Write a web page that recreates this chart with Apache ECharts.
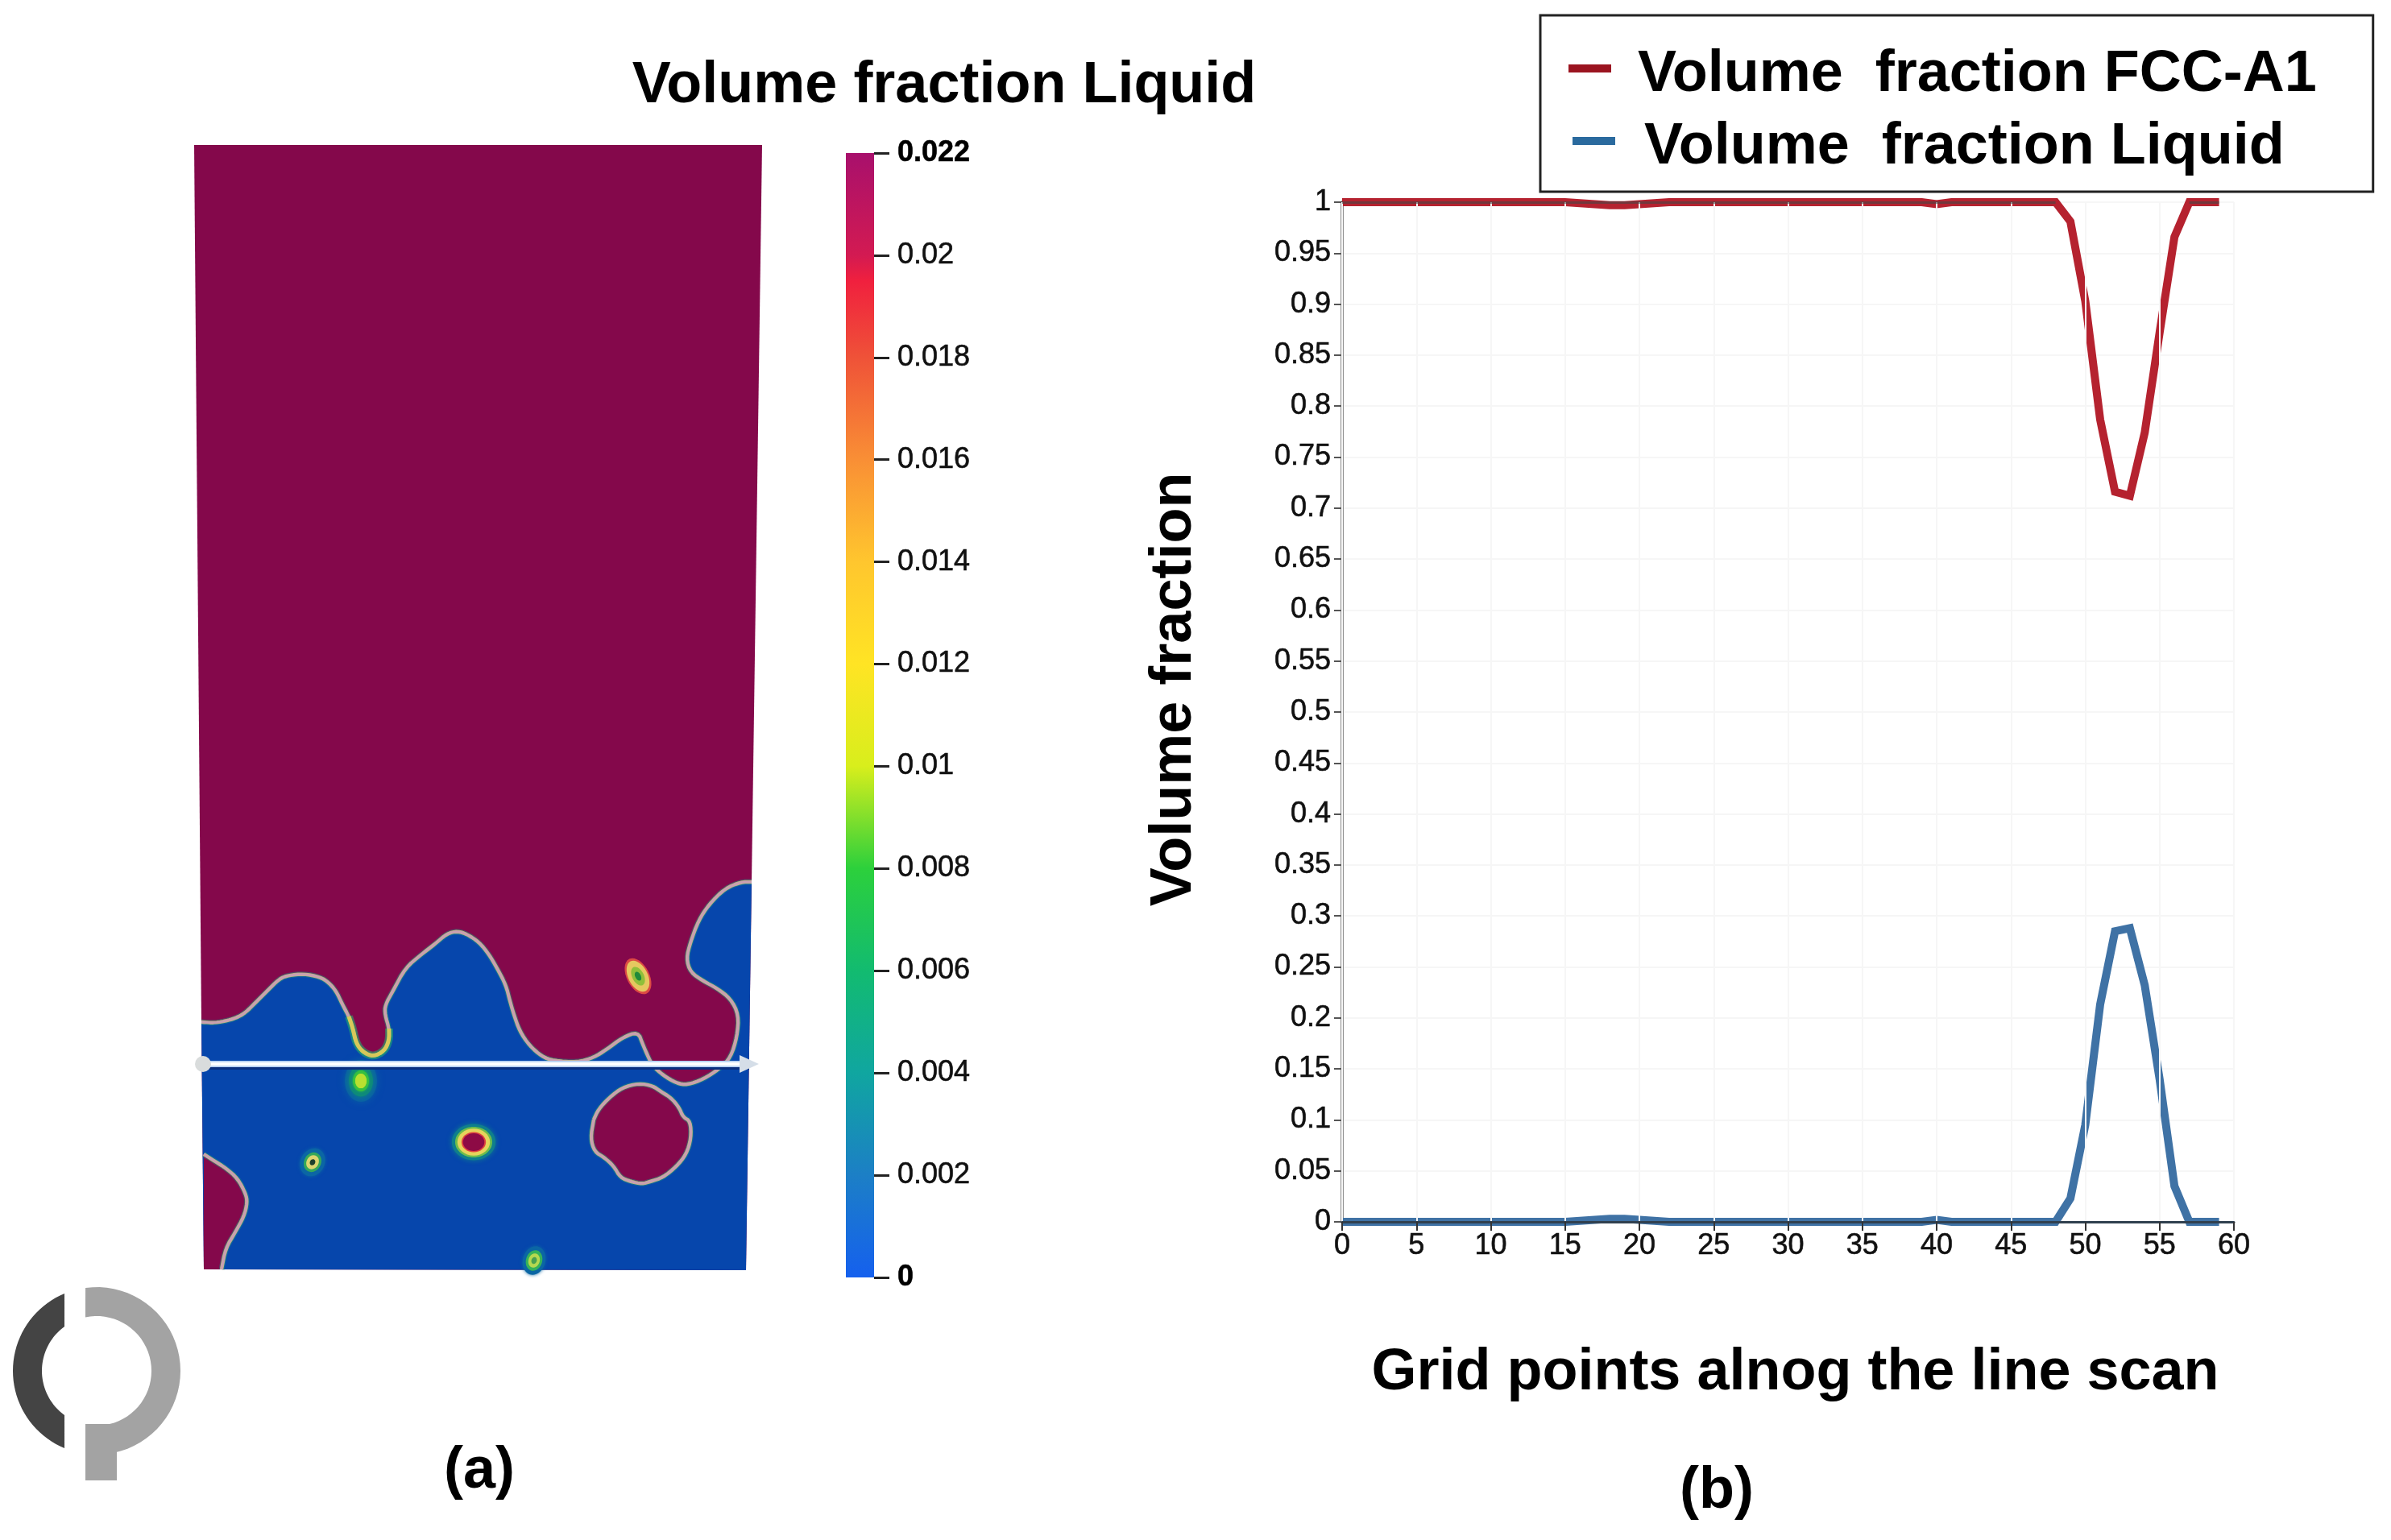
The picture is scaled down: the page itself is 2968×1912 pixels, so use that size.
<!DOCTYPE html>
<html>
	<head>
		<meta charset="utf-8">
		<title>Volume fraction line scan</title>
		<script src="https://cdn.jsdelivr.net/npm/echarts@6/dist/echarts.min.js"></script>
		<style>
			html, body { margin: 0; background: #fff; }
		</style>
	</head>
	<body>
		<div id="box" style="width: 2968px;height: 1912px;"></div>
		<script>
			// line scan values, one per grid point
			var gridPoints = [0,1,2,3,4,5,6,7,8,9,10,11,12,13,14,15,16,17,18,19,20,21,22,23,24,25,26,27,28,29,30,31,32,33,34,35,36,37,38,39,40,41,42,43,44,45,46,47,48,49,50,51,52,53,54,55,56,57,58,59]
			var fccValues = [1,1,1,1,1,1,1,1,1,1,1,1,1,1,1,1,0.999,0.998,0.997,0.997,0.998,0.999,1,1,1,1,1,1,1,1,1,1,1,1,1,1,1,1,1,1,0.998,1,1,1,1,1,1,1,1,0.981,0.903,0.787,0.716,0.712,0.774,0.872,0.966,1,1,1]
			var liquidValues = [0,0,0,0,0,0,0,0,0,0,0,0,0,0,0,0,0.001,0.002,0.003,0.003,0.002,0.001,0,0,0,0,0,0,0,0,0,0,0,0,0,0,0,0,0,0,0.002,0,0,0,0,0,0,0,0,0.023,0.095,0.213,0.285,0.288,0.232,0.14,0.035,0,0,0]

			// colour bar: value, colour
			var barStops = [[0,'#1560ee'],[0.002,'#1c7fc6'],[0.004,'#10a6a0'],[0.006,'#12bb70'],[0.008,'#2cd03c'],[0.01,'#d8ee1c'],[0.012,'#ffe424'],[0.014,'#ffc62e'],[0.016,'#f98f35'],[0.018,'#ef5238'],[0.0195,'#f0203e'],[0.02,'#d31a52'],[0.022,'#a8106c']]
			var barMax = 0.022

			// field outlines, in panel units (x across, y down)
			var panelEdge = [[1,0],[706,0],[693,915],[686,1397],[13,1396],[10,1089]]
			var mainFront = [[10,1089],[27,1090],[43,1087],[55,1083],[65,1077],[77,1065],[90,1052],[107,1035],[118,1031],[137,1029],[157,1033],[167,1039],[177,1050],[185,1067],[193,1082],[198,1097],[202,1115],[210,1126],[223,1132],[237,1125],[243,1112],[243,1097],[238,1080],[238,1068],[248,1050],[263,1022],[283,1005],[300,992],[315,979],[328,976],[340,980],[355,990],[367,1005],[377,1022],[388,1043],[393,1063],[398,1080],[405,1100],[417,1118],[433,1132],[447,1137],[477,1139],[497,1133],[513,1123],[533,1108],[552,1101],[558,1117],[565,1133],[570,1143],[583,1155],[600,1165],[613,1167],[633,1160],[653,1147],[667,1133],[675,1107],[677,1080],[667,1060],[650,1047],[633,1038],[617,1027],[612,1010],[617,990],[627,963],[640,943],[660,923],[680,915],[693,915]]
			var mainFrontTip = [[193,1082],[198,1097],[202,1115],[210,1126],[223,1132],[237,1125],[243,1112],[243,1097]]
			var bigDroplet = [[497,1210],[503,1197],[517,1182],[533,1170],[553,1165],[570,1168],[580,1175],[593,1183],[603,1195],[608,1207],[617,1212],[618,1233],[612,1253],[600,1268],[583,1282],[567,1287],[557,1290],[543,1287],[530,1282],[522,1268],[510,1257],[498,1250],[493,1233],[497,1210]]
			var cornerFront = [[13,1253],[27,1262],[40,1270],[55,1283],[65,1302],[67,1313],[63,1330],[52,1350],[40,1370],[35,1396]]
			var cornerClose = [[13,1396]]
			// small spots: x, y, rx, ry, rotation
			var ringSpot = [348,1238,23,19,0]
			var hazeSpot = [208,1162,20,26,0]
			var tinySpot = [148,1263,15,18,-0.5]
			var lowSpot = [423,1385,14,18,-0.3]
			var leafSpot = [552,1032,14,24,0.47]
			var scanLine = [[12,1141],[690,1141]]

			function smooth(pts) {
				var out = pts
				for (var k = 0; k < 2; k++) {
					var next = [out[0]]
					for (var i = 0; i < out.length - 1; i++) {
						var a = out[i], b = out[i + 1]
						next.push([a[0] * 0.75 + b[0] * 0.25, a[1] * 0.75 + b[1] * 0.25])
						next.push([a[0] * 0.25 + b[0] * 0.75, a[1] * 0.25 + b[1] * 0.75])
					}
					next.push(out[out.length - 1])
					out = next
				}
				return out
			}

			function renderField(params, api) {
				var toPx = function(pts) { return pts.map(function(p) { return api.coord(p) }) }
				var kids = []
				var fill = function(pts, color) {
					kids.push({ type: 'polygon', shape: { points: toPx(pts) }, style: { fill: color } })
				}
				var stroke = function(pts, color, width, opacity) {
					kids.push({ type: 'polyline', shape: { points: toPx(pts) }, style: { fill: null, stroke: color, lineWidth: width, opacity: opacity || 1, lineJoin: 'round' } })
				}
				var rim = function(pts) {
					stroke(pts, '#1d8f84', 7, 0.45)
					stroke(pts, '#b9b483', 4.5)
					stroke(pts, '#c99fb2', 3)
				}
				var spot = function(s, layers) {
					var c = api.coord([s[0], s[1]])
					layers.forEach(function(l) {
						kids.push({
							type: 'ellipse', x: c[0], y: c[1], rotation: s[4],
							shape: { cx: 0, cy: 0, rx: s[2] * l[0], ry: s[3] * l[0] },
							style: { fill: l[1], shadowBlur: l[2] || 0, shadowColor: l[1] }
						})
					})
				}
				var maroon = '#84084b', blue = '#0646ac'

				fill(panelEdge, maroon)
				var front = smooth(mainFront)
				fill(front.concat([[693,915],[686,1397],[13,1396]]), blue)
				rim(front)
				stroke(smooth(mainFrontTip), '#27b06a', 10, 0.55)
				stroke(smooth(mainFrontTip), '#d8c85a', 5)
				var drop = smooth(bigDroplet)
				fill(drop, maroon)
				rim(drop)
				var corner = smooth(cornerFront)
				fill(corner.concat(cornerClose), maroon)
				rim(corner)

				spot(ringSpot, [[1.18,'#0f7f8c',6],[1,'#6cbd4c'],[0.88,'#e6d45c'],[0.66,'#e0433f'],[0.58,'#8d0a45']])
				spot(hazeSpot, [[1,'#0a62a4',10],[0.75,'#0e8a7a',6],[0.5,'#35c040',3],[0.35,'#b8e030',1]])
				spot(tinySpot, [[1,'#0b66a4',4],[0.7,'#35a85a'],[0.5,'#dcd670'],[0.22,'#1e3f2c']])
				spot(lowSpot, [[1,'#0b66a4',4],[0.72,'#35b25a'],[0.5,'#b5d850'],[0.24,'#49a050']])
				spot(leafSpot, [[1,'#dc4a44'],[0.86,'#e6c860'],[0.52,'#8fbf3a'],[0.25,'#1f8a3a']])

				// the scan line and its two handles
				var ends = toPx(scanLine)
				var seg = function(dy, color, width) {
					kids.push({ type: 'line', shape: { x1: ends[0][0], y1: ends[0][1] + dy, x2: ends[1][0], y2: ends[1][1] + dy }, style: { stroke: color, lineWidth: width } })
				}
				seg(4, '#0a2f7e', 6)
				seg(0, '#bcd4f2', 8)
				seg(0, '#ffffff', 4)
				kids.push({ type: 'circle', shape: { cx: ends[0][0], cy: ends[0][1], r: 10 }, style: { fill: '#d9dcdc' } })
				kids.push({ type: 'polygon', shape: { points: [[ends[1][0] - 12, ends[1][1] - 11], [ends[1][0] + 12, ends[1][1]], [ends[1][0] - 12, ends[1][1] + 11]] }, style: { fill: '#d5dee8' } })
				return { type: 'group', children: kids }
			}

			function arcPts(cx, cy, r, a0, a1) {
				var pts = []
				for (var i = 0; i <= 40; i++) {
					var a = (a0 + (a1 - a0) * i / 40) * Math.PI / 180
					pts.push([cx + r * Math.cos(a), cy + r * Math.sin(a)])
				}
				return pts
			}

			var boldFont = { fontFamily: 'Liberation Sans', fontWeight: 'bold', fontSize: 72, color: '#000' }
			var tickFont = { fontFamily: 'Liberation Sans', fontSize: 36, color: '#111', textBorderColor: '#111', textBorderWidth: 0.6 }

			// legend keys sit above the text centre, and the second one slightly to the right
			var keyRed = 'path://M0,0H53V10H0Z M58,26H58.01V26.01H58Z'
			var keyBlue = 'path://M5,0H58V10H5Z M0,26H0.01V26.01H0Z'

			var mCharts = echarts.init(document.querySelector('#box'), null, { renderer: 'canvas' })
			var option = {
				backgroundColor: '#fff',
				animation: false,
				title: [
					{ text: 'Volume fraction Liquid', left: 1167, top: 66, textAlign: 'center', textStyle: boldFont },
					{ text: '(a)', left: 590, top: 1786, textAlign: 'center', textStyle: boldFont },
					{ text: '(b)', left: 2126, top: 1811, textAlign: 'center', textStyle: boldFont }
				],
				legend: {
					orient: 'vertical',
					left: 1912,
					top: 19,
					padding: [38, 70, 19, 35],
					backgroundColor: '#fff',
					borderColor: '#222',
					borderWidth: 3,
					borderRadius: 0,
					itemWidth: 58,
					itemHeight: 26,
					itemGap: 18,
					selectedMode: false,
					textStyle: { fontFamily: 'Liberation Sans', fontWeight: 'bold', fontSize: 72, color: '#000', padding: [0, 0, 0, 23] },
					data: [
						{ name: 'Volume  fraction FCC-A1', icon: keyRed, itemStyle: { color: '#9b1420', borderWidth: 0 } },
						{ name: 'Volume  fraction Liquid', icon: keyBlue, itemStyle: { color: '#2a6a9e', borderWidth: 0 }, textStyle: { padding: [0, 0, 0, 31] } }
					]
				},
				grid: [
					{ left: 240, top: 180, width: 720, height: 1410 },
					{ left: 1050, top: 190, width: 35, height: 1396 },
					{ left: 1666, top: 251, width: 1107, height: 1266 }
				],
				xAxis: [
					{ gridIndex: 0, type: 'value', min: 0, max: 720, show: false },
					{ gridIndex: 1, type: 'category', data: ['field'], show: false },
					{
						gridIndex: 2, type: 'value', min: 0, max: 60, interval: 5, z: 5,
						name: 'Grid points alnog the line scan',
						nameLocation: 'middle',
						nameGap: 152,
						nameTextStyle: Object.assign({ padding: [0, 0, 0, 18] }, boldFont),
						axisLine: { onZero: false, lineStyle: { color: '#30404f', width: 3 } },
						axisTick: { length: 11, lineStyle: { color: '#333', width: 2 } },
						axisLabel: Object.assign({ margin: 12 }, tickFont),
						splitLine: { show: true, lineStyle: { color: '#f6f6f6', width: 2 } }
					}
				],
				yAxis: [
					{ gridIndex: 0, type: 'value', min: 0, max: 1410, inverse: true, show: false },
					{
						gridIndex: 1, type: 'value', min: 0, max: barMax, interval: 0.002, position: 'right',
						axisLine: { show: false },
						axisTick: { show: true, length: 19, lineStyle: { color: '#222', width: 3 } },
						axisLabel: {
							margin: 29,
							fontFamily: 'Liberation Sans',
							fontSize: 36,
							color: '#111',
							textBorderColor: '#111',
							textBorderWidth: 0.6,
							formatter: function(v) {
								return (v === 0 || v === barMax) ? '{b|' + v + '}' : String(+v.toFixed(3))
							},
							rich: { b: { fontFamily: 'Liberation Sans', fontSize: 36, fontWeight: 'bold', color: '#000' } }
						},
						splitLine: { show: false }
					},
					{
						gridIndex: 2, type: 'value', min: 0, max: 1, interval: 0.05,
						name: 'Volume fraction',
						nameLocation: 'middle',
						nameRotate: 90,
						nameGap: 172,
						nameTextStyle: Object.assign({ padding: [0, 0, 0, 56] }, boldFont),
						axisLine: { show: true, lineStyle: { color: '#8f8f8f', width: 4 } },
						axisTick: { show: true, length: 10, lineStyle: { color: '#555', width: 2 } },
						axisLabel: Object.assign({ margin: 14 }, tickFont),
						splitLine: { show: true, lineStyle: { color: '#f6f6f6', width: 2 } }
					}
				],
				series: [
					{
						type: 'custom', xAxisIndex: 0, yAxisIndex: 0, silent: true,
						renderItem: renderField, data: [[0]]
					},
					{
						type: 'bar', xAxisIndex: 1, yAxisIndex: 1, barWidth: '100%', silent: true,
						data: [barMax],
						itemStyle: {
							color: new echarts.graphic.LinearGradient(0, 1, 0, 0, barStops.map(function(s) {
								return { offset: s[0] / barMax, color: s[1] }
							}))
						}
					},
					{
						name: 'Volume  fraction FCC-A1', type: 'line', xAxisIndex: 2, yAxisIndex: 2, symbol: 'none',
						data: gridPoints.map(function(x, i) { return [x, fccValues[i]] }),
						lineStyle: { color: '#b5222f', width: 10, join: 'miter' },
						itemStyle: { color: '#9b1420' },
						markLine: {
							silent: true, symbol: 'none', animation: false, label: { show: false },
							lineStyle: { color: 'rgba(70,70,70,0.6)', width: 3, type: 'solid' },
							data: [
								[{ coord: [gridPoints[0], 1] }, { coord: [gridPoints[48], 1] }],
								[{ coord: [gridPoints[57], 1] }, { coord: [gridPoints[59], 1] }]
							]
						}
					},
					{
						name: 'Volume  fraction Liquid', type: 'line', xAxisIndex: 2, yAxisIndex: 2, symbol: 'none',
						data: gridPoints.map(function(x, i) { return [x, liquidValues[i]] }),
						lineStyle: { color: '#3f72a5', width: 10, join: 'miter' },
						itemStyle: { color: '#2a6a9e' }
					}
				],
				graphic: [
					{
						type: 'polygon', silent: true,
						shape: { points: arcPts(120, 1702, 104, 112.6, 247.4).concat(arcPts(120, 1702, 68, 234, 126)) },
						style: { fill: '#444' }
					},
					{
						type: 'polygon', silent: true,
						shape: { points: arcPts(120, 1702, 104, 262.3, 457.7).concat(arcPts(120, 1702, 68, 461.9, 258.1)) },
						style: { fill: '#a3a3a3' }
					},
					{
						type: 'rect', silent: true,
						shape: { x: 106, y: 1768, width: 39, height: 70 },
						style: { fill: '#a3a3a3' }
					},
					// the plot clips its lines at the frame, as the original does
					{ type: 'rect', silent: true, z: 3, shape: { x: 1668, y: 241, width: 1110, height: 9 }, style: { fill: '#fff' } },
					{ type: 'rect', silent: true, z: 3, shape: { x: 1668, y: 1519, width: 1110, height: 9 }, style: { fill: '#fff' } }
				]
			}
			mCharts.setOption(option)
		</script>
	</body>
</html>
